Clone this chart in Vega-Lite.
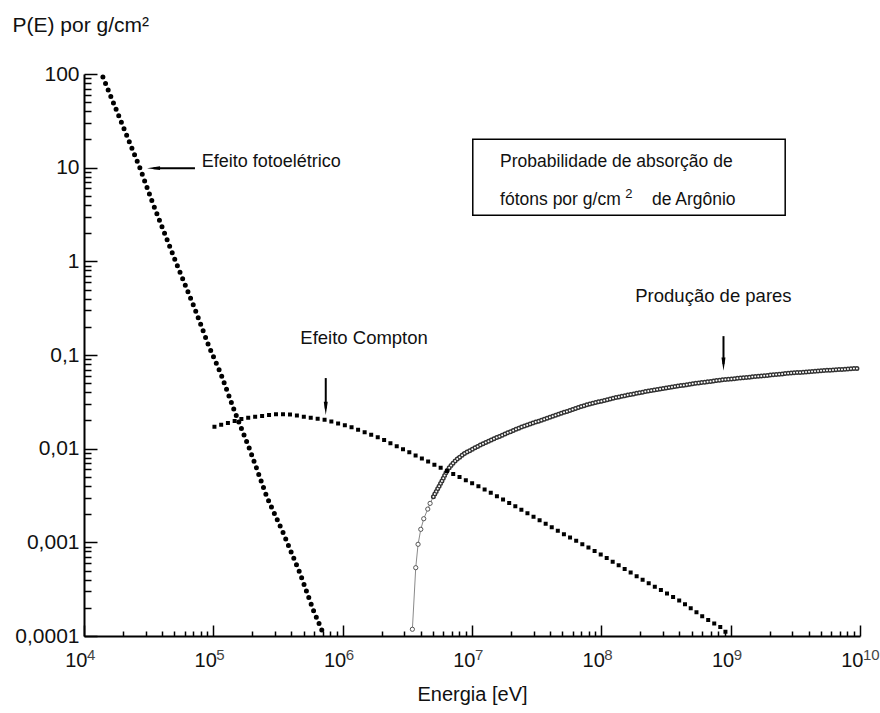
{
  "$schema": "https://vega.github.io/schema/vega-lite/v6.json",
  "width": 776,
  "height": 562,
  "autosize": {"type": "none"},
  "padding": {"left": 84, "top": 74, "right": 20, "bottom": 77},
  "background": "white",
  "config": {
    "view": {"stroke": null},
    "font": "Liberation Sans",
    "axis": {
      "grid": false,
      "domainColor": "#000",
      "domainWidth": 2,
      "tickColor": "#000",
      "tickWidth": 1.5,
      "labelColor": "#111",
      "labelFont": "Liberation Sans",
      "labelFontSize": 20,
      "labelFlush": false,
      "labelOverlap": false,
      "titleFont": "Liberation Sans",
      "titleFontWeight": "normal",
      "titleColor": "#111"
    }
  },
  "datasets": {
    "foto": [
      {"energia": 14000, "prob": 93},
      {"energia": 27100, "prob": 9.89},
      {"energia": 33700, "prob": 4.32},
      {"energia": 51200, "prob": 0.989},
      {"energia": 71000, "prob": 0.327},
      {"energia": 92700, "prob": 0.1225},
      {"energia": 114000, "prob": 0.0637},
      {"energia": 147000, "prob": 0.0244},
      {"energia": 192000, "prob": 0.00966},
      {"energia": 259000, "prob": 0.00307},
      {"energia": 348000, "prob": 0.00125},
      {"energia": 468000, "prob": 0.000467},
      {"energia": 593000, "prob": 0.000189},
      {"energia": 689000, "prob": 0.000116},
      {"energia": 718000, "prob": 0.0001}
    ],
    "compton": [
      {"energia": 102000, "prob": 0.01714},
      {"energia": 175800, "prob": 0.02123},
      {"energia": 309000, "prob": 0.02339},
      {"energia": 392000, "prob": 0.02312},
      {"energia": 745000, "prob": 0.02018},
      {"energia": 1140000, "prob": 0.01714},
      {"energia": 1945000, "prob": 0.01297},
      {"energia": 3500000, "prob": 0.00875},
      {"energia": 6410000, "prob": 0.00577},
      {"energia": 11560000, "prob": 0.00389},
      {"energia": 20800000, "prob": 0.0025},
      {"energia": 48000000, "prob": 0.001288},
      {"energia": 97900000, "prob": 0.00075},
      {"energia": 210000000, "prob": 0.000396},
      {"energia": 406000000, "prob": 0.000237},
      {"energia": 612000000, "prob": 0.0001596},
      {"energia": 830000000, "prob": 0.0001247},
      {"energia": 989000000, "prob": 0.0001}
    ],
    "pares": [
      {"energia": 3460000, "prob": 0.000118, "trecho": "inicial"},
      {"energia": 3673000, "prob": 0.000536, "trecho": "inicial"},
      {"energia": 3828000, "prob": 0.000953, "trecho": "inicial"},
      {"energia": 4018000, "prob": 0.001377, "trecho": "inicial"},
      {"energia": 4236000, "prob": 0.001786, "trecho": "inicial"},
      {"energia": 4550000, "prob": 0.002265, "trecho": "inicial"},
      {"energia": 4742000, "prob": 0.002606, "trecho": "inicial"},
      {"energia": 5029000, "prob": 0.003067, "trecho": "continuo"},
      {"energia": 5401000, "prob": 0.003678, "trecho": "continuo"},
      {"energia": 5768000, "prob": 0.004346, "trecho": "continuo"},
      {"energia": 6085000, "prob": 0.005037, "trecho": "continuo"},
      {"energia": 6418000, "prob": 0.005839, "trecho": "continuo"},
      {"energia": 7018000, "prob": 0.006848, "trecho": "continuo"},
      {"energia": 7671000, "prob": 0.007745, "trecho": "continuo"},
      {"energia": 8844000, "prob": 0.008974, "trecho": "continuo"},
      {"energia": 11550000, "prob": 0.010925, "trecho": "continuo"},
      {"energia": 16490000, "prob": 0.01363, "trecho": "continuo"},
      {"energia": 23550000, "prob": 0.0168, "trecho": "continuo"},
      {"energia": 40180000, "prob": 0.02174, "trecho": "continuo"},
      {"energia": 77650000, "prob": 0.02955, "trecho": "continuo"},
      {"energia": 139800000, "prob": 0.03597, "trecho": "continuo"},
      {"energia": 251500000, "prob": 0.04221, "trecho": "continuo"},
      {"energia": 486200000, "prob": 0.0489, "trecho": "continuo"},
      {"energia": 829400000, "prob": 0.05397, "trecho": "continuo"},
      {"energia": 1547000000, "prob": 0.05883, "trecho": "continuo"},
      {"energia": 2735000000, "prob": 0.06362, "trecho": "continuo"},
      {"energia": 4923000000, "prob": 0.06783, "trecho": "continuo"},
      {"energia": 9512000000, "prob": 0.07194, "trecho": "continuo"}
    ],
    "setas": [
      {"curva": "fotoelétrico", "energia": 34500, "energia2": 72100, "prob": 9.88, "prob2": 9.88},
      {"curva": "Compton", "energia": 740000, "energia2": 740000, "prob": 0.0567, "prob2": 0.0269},
      {"curva": "pares", "energia": 880000000, "energia2": 880000000, "prob": 0.159, "prob2": 0.08}
    ],
    "pontaEsquerda": [
      {"energia": 34500, "prob": 9.88}
    ],
    "pontaBaixo": [
      {"energia": 740000, "prob": 0.0269},
      {"energia": 880000000, "prob": 0.08}
    ],
    "caixa": [
      {"energia": 10140000, "energia2": 2640000000, "prob": 20.15, "prob2": 3.11}
    ],
    "rotuloFoto": [
      {"energia": 81300, "prob": 10.1, "texto": "Efeito fotoelétrico"}
    ],
    "rotulosCentro": [
      {"energia": 1464000, "prob": 0.1307, "texto": "Efeito Compton"},
      {"energia": 736000000, "prob": 0.3697, "texto": "Produção de pares"}
    ],
    "legenda": [
      {"energia": 16490000, "prob": 10.1, "texto": "Probabilidade de absorção de"},
      {"energia": 16490000, "prob": 3.98, "texto": "fótons por g/cm"},
      {"energia": 246000000, "prob": 3.98, "texto": "de Argônio"}
    ],
    "expoente": [
      {"energia": 152800000, "prob": 4.69, "texto": "2"}
    ],
    "potencias": [
      {"energia": 10000, "prob": 0.0001, "texto": "4"},
      {"energia": 100000, "prob": 0.0001, "texto": "5"},
      {"energia": 1000000, "prob": 0.0001, "texto": "6"},
      {"energia": 10000000, "prob": 0.0001, "texto": "7"},
      {"energia": 100000000, "prob": 0.0001, "texto": "8"},
      {"energia": 1000000000, "prob": 0.0001, "texto": "9"},
      {"energia": 10000000000, "prob": 0.0001, "texto": "10"}
    ]
  },
  "encoding": {
    "x": {
      "field": "energia",
      "type": "quantitative",
      "scale": {"type": "log", "domain": [10000, 10000000000], "nice": false},
      "axis": {
        "orient": "bottom",
        "title": "Energia [eV]",
        "titleFontSize": 20,
        "titleBaseline": "alphabetic",
        "titleY": 64,
        "values": [10000, 20000, 30000, 40000, 50000, 60000, 70000, 80000, 90000,
                   100000, 200000, 300000, 400000, 500000, 600000, 700000, 800000, 900000,
                   1000000, 2000000, 3000000, 4000000, 5000000, 6000000, 7000000, 8000000, 9000000,
                   10000000, 20000000, 30000000, 40000000, 50000000, 60000000, 70000000, 80000000, 90000000,
                   100000000, 200000000, 300000000, 400000000, 500000000, 600000000, 700000000, 800000000, 900000000,
                   1000000000, 2000000000, 3000000000, 4000000000, 5000000000, 6000000000, 7000000000, 8000000000, 9000000000,
                   10000000000],
        "labelExpr": "abs(log(datum.value)/LN10 - round(log(datum.value)/LN10)) < 0.001 ? '10' : ''",
        "labelAlign": "right",
        "labelOffset": 3,
        "tickSize": {"condition": {"test": "abs(log(datum.value)/LN10 - round(log(datum.value)/LN10)) < 0.001", "value": -11}, "value": -5},
        "labelPadding": 25
      }
    },
    "y": {
      "field": "prob",
      "type": "quantitative",
      "scale": {"type": "log", "domain": [0.0001, 100], "nice": false},
      "axis": {
        "orient": "left",
        "title": "P(E) por g/cm²",
        "titleFontSize": 21,
        "titleAngle": 0,
        "titleAlign": "left",
        "titleBaseline": "alphabetic",
        "titleX": -72,
        "titleY": -43,
        "labelFontSize": 21,
        "values": [0.0001, 0.0002, 0.0003, 0.0004, 0.0005, 0.0006, 0.0007, 0.0008, 0.0009,
                   0.001, 0.002, 0.003, 0.004, 0.005, 0.006, 0.007, 0.008, 0.009,
                   0.01, 0.02, 0.03, 0.04, 0.05, 0.06, 0.07, 0.08, 0.09,
                   0.1, 0.2, 0.3, 0.4, 0.5, 0.6, 0.7, 0.8, 0.9,
                   1, 2, 3, 4, 5, 6, 7, 8, 9,
                   10, 20, 30, 40, 50, 60, 70, 80, 90,
                   100],
        "labelExpr": "abs(log(datum.value)/LN10 - round(log(datum.value)/LN10)) < 0.001 ? (round(log(datum.value)/LN10) >= 0 ? format(datum.value, 'd') : replace(format(datum.value, '.' + (-round(log(datum.value)/LN10)) + 'f'), '.', ',')) : ''",
        "tickSize": {"condition": {"test": "abs(log(datum.value)/LN10 - round(log(datum.value)/LN10)) < 0.001", "value": -13}, "value": -7},
        "labelPadding": 18
      }
    }
  },
  "layer": [
    {
      "data": {"name": "caixa"},
      "mark": {"type": "rect", "fill": "white", "stroke": "#000", "strokeWidth": 1.5},
      "encoding": {
        "x2": {"field": "energia2"},
        "y2": {"field": "prob2"}
      }
    },
    {
      "data": {"name": "pares"},
      "mark": {"type": "line", "stroke": "#8a8a8a", "strokeWidth": 1},
      "encoding": {}
    },
    {
      "data": {"name": "pares"},
      "transform": [{"filter": "datum.trecho == 'continuo'"}],
      "mark": {"type": "line", "stroke": "#333", "strokeWidth": 5, "strokeCap": "round", "strokeDash": [0, 3]},
      "encoding": {}
    },
    {
      "data": {"name": "pares"},
      "transform": [{"filter": "datum.trecho == 'continuo'"}],
      "mark": {"type": "line", "stroke": "white", "strokeWidth": 2, "strokeCap": "round", "strokeDash": [0, 3]},
      "encoding": {}
    },
    {
      "data": {"name": "pares"},
      "transform": [{"filter": "datum.trecho == 'inicial'"}],
      "mark": {"type": "point", "shape": "circle", "filled": false, "fill": "white", "fillOpacity": 1, "stroke": "#555", "strokeWidth": 1, "opacity": 1, "size": 18}
    },
    {
      "data": {"name": "compton"},
      "mark": {"type": "line", "stroke": "#000", "strokeWidth": 4, "strokeCap": "square", "strokeDash": [0, 7]},
      "encoding": {}
    },
    {
      "data": {"name": "foto"},
      "mark": {"type": "line", "stroke": "#000", "strokeWidth": 5, "strokeCap": "round", "strokeDash": [0, 7]},
      "encoding": {}
    },
    {
      "data": {"name": "setas"},
      "mark": {"type": "rule", "stroke": "#000", "strokeWidth": 2},
      "encoding": {
        "x2": {"field": "energia2"},
        "y2": {"field": "prob2"}
      }
    },
    {
      "data": {"name": "pontaEsquerda"},
      "mark": {"type": "point", "shape": "M-1,0L1,-0.28L1,0.28Z", "filled": true, "fill": "#000", "opacity": 1, "size": 169}
    },
    {
      "data": {"name": "pontaBaixo"},
      "mark": {"type": "point", "shape": "M0,1L-0.3,-1L0.3,-1Z", "filled": true, "fill": "#000", "opacity": 1, "size": 177}
    },
    {
      "data": {"name": "rotuloFoto"},
      "mark": {"type": "text", "align": "left", "baseline": "alphabetic", "font": "Liberation Sans", "fontSize": 18, "fill": "#111"},
      "encoding": {"text": {"field": "texto"}}
    },
    {
      "data": {"name": "rotulosCentro"},
      "mark": {"type": "text", "align": "center", "baseline": "alphabetic", "font": "Liberation Sans", "fontSize": 18.5, "fill": "#111"},
      "encoding": {"text": {"field": "texto"}}
    },
    {
      "data": {"name": "legenda"},
      "mark": {"type": "text", "align": "left", "baseline": "alphabetic", "font": "Liberation Sans", "fontSize": 17.5, "fill": "#111"},
      "encoding": {"text": {"field": "texto"}}
    },
    {
      "data": {"name": "expoente"},
      "mark": {"type": "text", "align": "left", "baseline": "alphabetic", "font": "Liberation Sans", "fontSize": 13, "fill": "#111"},
      "encoding": {"text": {"field": "texto"}}
    },
    {
      "data": {"name": "potencias"},
      "mark": {"type": "text", "align": "left", "baseline": "alphabetic", "font": "Liberation Sans", "fontSize": 15, "fill": "#444", "dx": 3, "dy": 24},
      "encoding": {"text": {"field": "texto"}}
    }
  ]
}
